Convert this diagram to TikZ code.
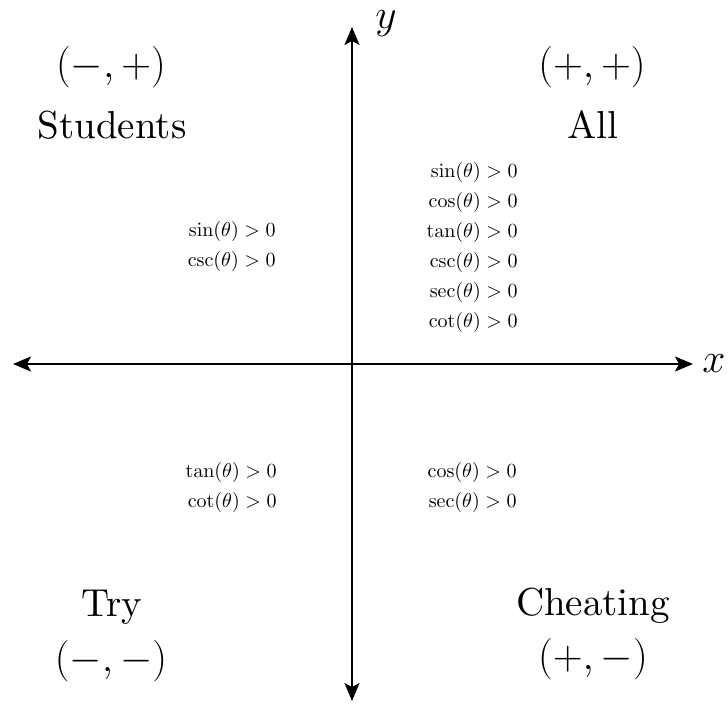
\documentclass[tikz,border=0pt]{standalone}
\usepackage{graphicx}
\usetikzlibrary{arrows.meta}
\newcommand{\bigword}[1]{\scalebox{1.95}{\fontsize{10}{12}\selectfont #1}}
\begin{document}
\begin{tikzpicture}[x=0.5pt,y=-0.5pt,
  axis/.style={line width=0.9pt,{Stealth[length=9pt,width=7.5pt,inset=2pt]}-{Stealth[length=9pt,width=7.5pt,inset=2pt]}},
  big/.style={inner sep=0pt,font=\fontsize{19.5}{23}\selectfont},
  small/.style={inner sep=0pt,anchor=east,font=\fontsize{10}{12}\selectfont}]
\useasboundingbox (0,0) rectangle (728,703);
\coordinate (L) at (13,364);
\coordinate (R) at (693,364);
\coordinate (T) at (352,27);
\coordinate (B) at (352,701);
\draw[axis] (L) -- (R);
\draw[axis] (B) -- (T);
\node[big] (xl) at (714,364) {$x$};
\node[big] (yl) at (386,24) {$y$};
% quadrant labels
\node[big] (q2s) at (111,67) {$(-,+)$};
\node[big,anchor=base] (q2n) at (112,138) {\bigword{Students}};
\node[big] (q1s) at (592,67) {$(+,+)$};
\node[big,anchor=base] (q1n) at (593,138) {\bigword{All}};
\node[big,anchor=base] (q3n) at (112,616) {\bigword{Try}};
\node[big] (q3s) at (111,661) {$(-,-)$};
\node[big,anchor=base] (q4n) at (593,615) {\bigword{Cheating}};
\node[big] (q4s) at (593,659) {$(+,-)$};
% quadrant I
\node[small] (a1) at (518,172) {$\sin(\theta)>0$};
\node[small] (a2) at (518,202) {$\cos(\theta)>0$};
\node[small] (a3) at (518,232) {$\tan(\theta)>0$};
\node[small] (a4) at (518,262) {$\csc(\theta)>0$};
\node[small] (a5) at (518,292) {$\sec(\theta)>0$};
\node[small] (a6) at (518,322) {$\cot(\theta)>0$};
% quadrant II
\node[small] (b1) at (276,231) {$\sin(\theta)>0$};
\node[small] (b2) at (276,261) {$\csc(\theta)>0$};
% quadrant III
\node[small] (c1) at (277,472) {$\tan(\theta)>0$};
\node[small] (c2) at (277,502) {$\cot(\theta)>0$};
% quadrant IV
\node[small] (d1) at (517,472) {$\cos(\theta)>0$};
\node[small] (d2) at (517,502) {$\sec(\theta)>0$};
\end{tikzpicture}
\end{document}
